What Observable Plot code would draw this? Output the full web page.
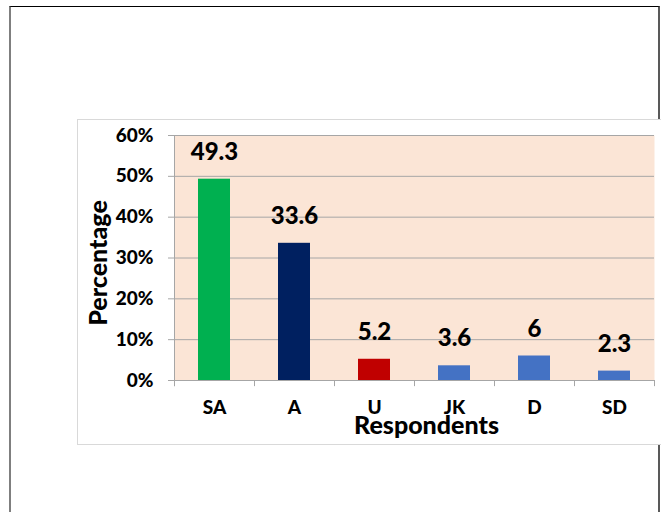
<!DOCTYPE html>
<html><head><meta charset="utf-8">
<script src="https://cdn.jsdelivr.net/npm/d3@7"></script>
<script src="https://cdn.jsdelivr.net/npm/@observablehq/plot@0.6"></script>
<style>
body{margin:0;background:#fff;}
#page{position:relative;width:661px;height:512px;overflow:hidden;}
#outer{position:absolute;left:9px;top:6px;width:647px;height:600px;border-top:1.5px solid #000;border-left:2px solid #7f7f7f;border-right:2px solid #595959;}
#box{position:absolute;left:77px;top:119px;width:700px;height:324px;border:1px solid #d9d9d9;background:#fff;}
#chart{position:absolute;left:0;top:0;}
</style></head>
<body><div id="page"><div id="outer"></div><div id="box"></div><div id="chart"></div></div>
<script>
const categories = ["SA", "A", "U", "JK", "D", "SD"];
const values = [49.3, 33.6, 5.2, 3.6, 6, 2.3];
const colors = ["#00B050", "#002060", "#C00000", "#4472C4", "#4472C4", "#4472C4"];
const yTicks = [0, 10, 20, 30, 40, 50, 60];
const yLabel = "Percentage";
const xLabel = "Respondents";

const data = categories.map((c, i) => ({category: c, value: values[i], color: colors[i]}));
const grid = "#a6a6a6";
const font = "Lato, 'Open Sans', sans-serif";
const weight = 900;

const plot = Plot.plot({
  width: 661, height: 512,
  marginLeft: 174, marginRight: 7, marginTop: 135, marginBottom: 132,
  style: {background: "transparent", fontFamily: font, color: "#000"},
  x: {domain: categories, paddingInner: 0.6, paddingOuter: 0.3},
  y: {domain: [0, 60]},
  marks: [
    Plot.frame({fill: "#FBE5D6", stroke: null}),
    Plot.gridY(yTicks, {stroke: grid, strokeOpacity: 1}),
    Plot.axisY(yTicks, {tickSize: 6, tickPadding: 15, stroke: grid, tickFormat: d => d + "%", fontSize: 19, fontWeight: weight, label: null}),
    Plot.ruleX([categories[0]], {dx: -40, y1: -1.5, y2: 60, stroke: grid}),
    Plot.ruleX(categories, {x: d => d, dx: -40, y1: -1.5, y2: 0, stroke: grid}),
    Plot.ruleX([categories[categories.length - 1]], {x: d => d, dx: 40, y1: -1.5, y2: 0, stroke: grid}),
    Plot.ruleY([0], {stroke: grid}),
    Plot.barY(data, {x: "category", y: "value", fill: "color"}),
    Plot.text(data, {x: "category", y: "value", text: d => String(d.value), dy: -27, fontSize: 24, fontWeight: weight, fill: "#000"}),
    Plot.axisX({tickSize: 0, tickPadding: 20, fontSize: 19, fontWeight: weight, label: null}),
    Plot.text([yLabel], {frameAnchor: "left", textAnchor: "middle", lineAnchor: "middle", dx: -76, dy: 5, rotate: -90, fontSize: 25, fontWeight: weight, fill: "#000"}),
    Plot.text([xLabel], {frameAnchor: "bottom", textAnchor: "middle", lineAnchor: "middle", dx: 12, dy: 45, fontSize: 25, fontWeight: weight, fill: "#000"})
  ]
});
document.getElementById("chart").appendChild(plot);
</script>
</body></html>
